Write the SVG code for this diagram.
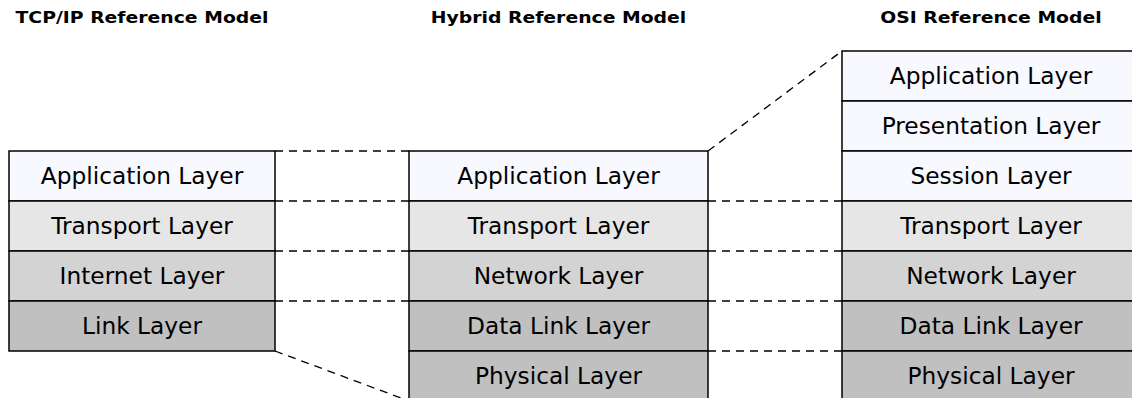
<svg xmlns="http://www.w3.org/2000/svg" width="1132" height="398" viewBox="0 0 1132 398">
<style>
.t{font-family:"DejaVu Sans",sans-serif;font-size:16.5px;font-weight:bold;text-anchor:middle;fill:#000}
.l{font-family:"DejaVu Sans",sans-serif;font-size:23.3px;text-anchor:middle;fill:#000}
.b{stroke:#000;stroke-width:1.5}
.a{fill:#f8f8ff}.tr{fill:#e6e6e6}.n{fill:#d3d3d3}.k{fill:#c0c0c0}
.d{stroke:#000;stroke-width:1.3;stroke-dasharray:8,6;fill:none}
</style>
<text class="t" transform="translate(142,23.3) scale(1.14,1)">TCP/IP Reference Model</text>
<text class="t" transform="translate(558.5,23.3) scale(1.14,1)">Hybrid Reference Model</text>
<text class="t" transform="translate(991,23.3) scale(1.14,1)">OSI Reference Model</text>
<g id="connectors">
<line class="d" x1="275" y1="151" x2="409" y2="151"/>
<line class="d" x1="275" y1="201" x2="409" y2="201"/>
<line class="d" x1="275" y1="251" x2="409" y2="251"/>
<line class="d" x1="275" y1="301" x2="409" y2="301"/>
<line class="d" x1="275" y1="351" x2="409" y2="401"/>
<line class="d" x1="708" y1="151" x2="842" y2="51"/>
<line class="d" x1="708" y1="201" x2="842" y2="201"/>
<line class="d" x1="708" y1="251" x2="842" y2="251"/>
<line class="d" x1="708" y1="301" x2="842" y2="301"/>
<line class="d" x1="708" y1="351" x2="842" y2="351"/>
</g>
<g id="tcpip">
<rect class="b a" x="9" y="151" width="266" height="50"/><text class="l" x="142" y="184">Application Layer</text>
<rect class="b tr" x="9" y="201" width="266" height="50"/><text class="l" x="142" y="234">Transport Layer</text>
<rect class="b n" x="9" y="251" width="266" height="50"/><text class="l" x="142" y="284">Internet Layer</text>
<rect class="b k" x="9" y="301" width="266" height="50"/><text class="l" x="142" y="334">Link Layer</text>
</g>
<g id="hybrid">
<rect class="b a" x="409" y="151" width="299" height="50"/><text class="l" x="558.5" y="184">Application Layer</text>
<rect class="b tr" x="409" y="201" width="299" height="50"/><text class="l" x="558.5" y="234">Transport Layer</text>
<rect class="b n" x="409" y="251" width="299" height="50"/><text class="l" x="558.5" y="284">Network Layer</text>
<rect class="b k" x="409" y="301" width="299" height="50"/><text class="l" x="558.5" y="334">Data Link Layer</text>
<rect class="b k" x="409" y="351" width="299" height="50"/><text class="l" x="558.5" y="384">Physical Layer</text>
</g>
<g id="osi">
<rect class="b a" x="842" y="51" width="299" height="50"/><text class="l" x="991" y="84">Application Layer</text>
<rect class="b a" x="842" y="101" width="299" height="50"/><text class="l" x="991" y="134">Presentation Layer</text>
<rect class="b a" x="842" y="151" width="299" height="50"/><text class="l" x="991" y="184">Session Layer</text>
<rect class="b tr" x="842" y="201" width="299" height="50"/><text class="l" x="991" y="234">Transport Layer</text>
<rect class="b n" x="842" y="251" width="299" height="50"/><text class="l" x="991" y="284">Network Layer</text>
<rect class="b k" x="842" y="301" width="299" height="50"/><text class="l" x="991" y="334">Data Link Layer</text>
<rect class="b k" x="842" y="351" width="299" height="50"/><text class="l" x="991" y="384">Physical Layer</text>
</g>
</svg>
